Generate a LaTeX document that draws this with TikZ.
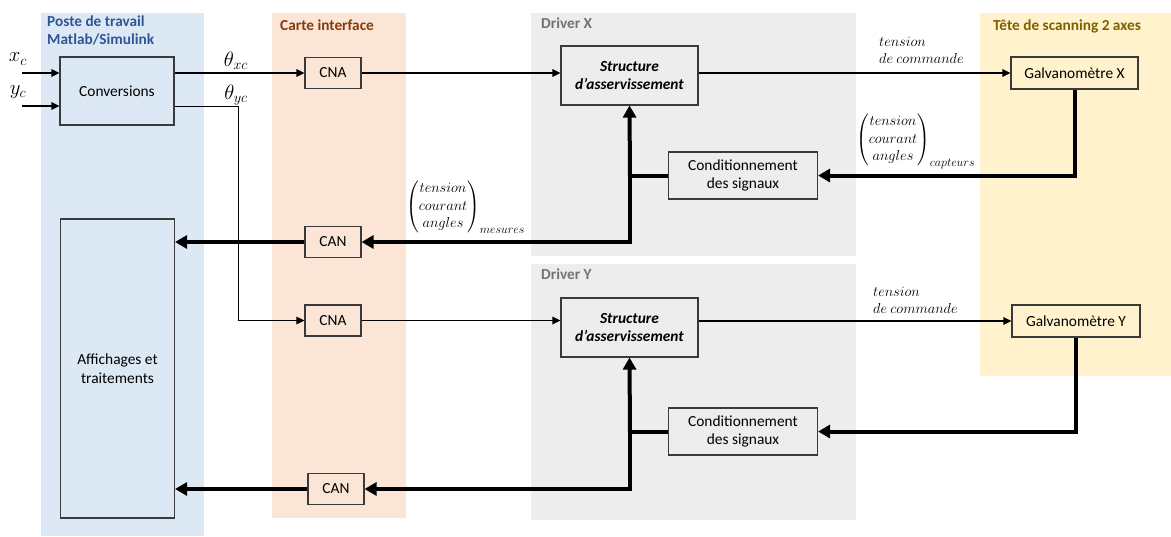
\documentclass[tikz,border=0pt]{standalone}
\usepackage{amsmath}
\usepackage{fontspec}
\setmainfont{Carlito}
\usetikzlibrary{arrows.meta}
\definecolor{pblue}{HTML}{DDE8F5}
\definecolor{porange}{HTML}{FBE5D6}
\definecolor{pgray}{HTML}{EDEDED}
\definecolor{pyellow}{HTML}{FFF2CC}
\definecolor{tblue}{HTML}{2F5597}
\definecolor{tbrown}{HTML}{843C0C}
\definecolor{tgray}{HTML}{767171}
\definecolor{tyellow}{HTML}{7F6000}
\definecolor{boxdraw}{HTML}{3A3A3A}
\begin{document}
\begin{tikzpicture}[x=1pt,y=-1pt,
  box/.style={draw=boxdraw,line width=1.1pt,inner sep=0pt,align=center,
    font=\fontsize{15.4}{18.8}\selectfont},
  paneltitle/.style={anchor=north west,align=left,inner sep=0pt,
    font=\fontsize{15.3}{18}\selectfont\bfseries},
  arr/.style={line width=1.7pt,-{Triangle[length=8pt,width=7.5pt]}},
  thinline/.style={line width=0.9pt},
  tline/.style={line width=4pt},
  tarr/.style={line width=4pt,-{Triangle[length=12pt,width=13pt]}},
  mlabel/.style={inner sep=0pt,font=\fontsize{20}{23}\selectfont},
  slabel/.style={inner sep=0pt,anchor=north west,align=left,font=\fontsize{15}{17}\selectfont},
  plabel/.style={inner sep=0pt,anchor=west,font=\fontsize{15.5}{17.5}\selectfont}
]
\useasboundingbox (0,0) rectangle (1171,536);
% panels
\fill[pblue] (41,13) rectangle (204,536);
\fill[porange] (272,13) rectangle (406,518);
\fill[pgray] (531,13) rectangle (856,256);
\fill[pgray] (531,264) rectangle (856,520);
\fill[pyellow] (980,13) rectangle (1171,376);
% titles
\node[paneltitle,text=tblue] (t1) at (47,16) {Poste de travail\\Matlab/Simulink};
\node[paneltitle,text=tbrown] (t2) at (280,20) {Carte interface};
\node[paneltitle,text=tgray] (t3) at (541,18) {Driver X};
\node[paneltitle,text=tgray] (t4) at (541,269) {Driver Y};
\node[paneltitle,text=tyellow] (t5) at (993,20) {Tête de scanning 2 axes};
% boxes
\node[box,fill=pblue,minimum width=114pt,minimum height=68pt] (conv) at (117,91) {Conversions};
\node[box,fill=porange,minimum width=56pt,minimum height=31pt] (cna1) at (333,73) {CNA};
\node[box,fill=pgray,minimum width=137pt,minimum height=59pt] (strx) at (629.5,75.5) {\bfseries\itshape Structure\\\bfseries\itshape d’asservissement};
\node[box,fill=pyellow,minimum width=127pt,minimum height=32pt] (galx) at (1074.5,73) {Galvanomètre X};
\node[box,fill=pgray,minimum width=149pt,minimum height=47pt] (condx) at (743,175.5) {Conditionnement\\des signaux};
\node[box,fill=porange,minimum width=56pt,minimum height=31pt] (can1) at (333,242) {CAN};
\node[box,fill=pblue,minimum width=114pt,minimum height=299pt] (aff) at (117.5,368.5) {Affichages et\\traitements};
\node[box,fill=porange,minimum width=56pt,minimum height=31pt] (cna2) at (333,320.5) {CNA};
\node[box,fill=pgray,minimum width=137pt,minimum height=59pt] (stry) at (629.5,327.5) {\bfseries\itshape Structure\\\bfseries\itshape d’asservissement};
\node[box,fill=pyellow,minimum width=128pt,minimum height=32pt] (galy) at (1076,321) {Galvanomètre Y};
\node[box,fill=pgray,minimum width=149pt,minimum height=47pt] (condy) at (743,431.5) {Conditionnement\\des signaux};
\node[box,fill=porange,minimum width=56pt,minimum height=31pt] (can2) at (336,489) {CAN};
% coordinates
\coordinate (xcs) at (22,73);
\coordinate (ycs) at (22,106);
\coordinate (tyc) at (238,106);
\coordinate (jx) at (630,175.5);
\coordinate (jy) at (630,431.5);
% labels
\node[mlabel] (lxc) at (18,59) {$x_c$};
\node[mlabel] (lyc) at (18,92) {$y_c$};
\node[mlabel] (ltxc) at (236,61) {$\theta_{xc}$};
\node[mlabel] (ltyc) at (236,95) {$\theta_{yc}$};
\node[slabel] (lcx) at (879,37) {$tension$\\$de\ commande$};
\node[slabel] (lcy) at (873,287) {$tension$\\$de\ commande$};
\node[plabel] (lcap) at (856,141) {$\begin{pmatrix}tension\\courant\\angles\end{pmatrix}_{\mbox{\fontsize{12}{13}\selectfont$capteurs$}}$};
\node[plabel] (lmes) at (406,207) {$\begin{pmatrix}tension\\courant\\angles\end{pmatrix}_{\mbox{\fontsize{12}{13}\selectfont$mesures$}}$};
% connectors
\draw[arr] (xcs) -- (xcs -| conv.west);
\draw[arr] (ycs) -- (ycs -| conv.west);
\draw[arr] (conv.east |- cna1) -- (cna1.west);
\draw[thinline] (conv.east |- tyc) -- (tyc) -- (tyc |- cna2);
\draw[thinline,-{Triangle[length=8pt,width=7.5pt]}] ([xshift=-0.45pt]tyc |- cna2) -- (cna2.west);
\draw[arr] (cna1.east) -- (strx.west |- cna1);
\draw[arr] (strx.east |- galx) -- (galx.west);
\draw[tarr] (galx.south) |- (condx.east);
\draw[tline] (condx.west) -- ([xshift=-2pt]jx);
\draw[tarr] ([yshift=-2pt]jx) -- (strx.south);
\draw[tarr] ([yshift=2pt]jx) |- (can1.east);
\draw[tarr] (can1.west) -- (aff.east |- can1);
\draw[arr] (cna2.east) -- (stry.west |- cna2);
\draw[arr] (stry.east |- galy) -- (galy.west);
\draw[tarr] (galy.south) |- (condy.east);
\draw[tline] (condy.west) -- ([xshift=-2pt]jy);
\draw[tarr] ([yshift=-2pt]jy) -- (stry.south);
\draw[tarr] ([yshift=2pt]jy) |- (can2.east);
\draw[tarr] (can2.west) -- (aff.east |- can2);
\end{tikzpicture}
\end{document}
